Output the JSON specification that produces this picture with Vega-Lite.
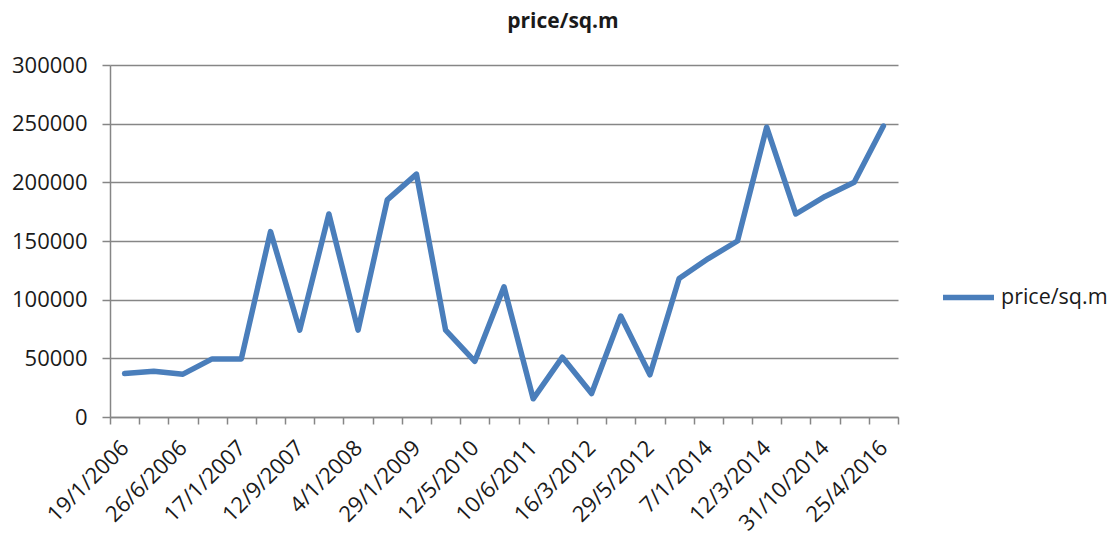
{
  "$schema": "https://vega.github.io/schema/vega-lite/v6.json",
  "autosize": "none",
  "width": 788,
  "height": 352,
  "padding": {"left": 110, "top": 65, "right": 219, "bottom": 121},
  "background": "white",
  "title": {
    "text": "price/sq.m",
    "frame": "group",
    "anchor": "middle",
    "dx": 59,
    "offset": 5,
    "baseline": "alphabetic",
    "font": "Open Sans",
    "fontSize": 21,
    "fontWeight": "bold",
    "color": "#1a1a1a"
  },
  "data": {
    "values": [
      {"date": "19/1/2006", "price": 37000, "series": "price/sq.m"},
      {"date": "3/4/2006", "price": 39000, "series": "price/sq.m"},
      {"date": "26/6/2006", "price": 36500, "series": "price/sq.m"},
      {"date": "10/10/2006", "price": 49500, "series": "price/sq.m"},
      {"date": "17/1/2007", "price": 49500, "series": "price/sq.m"},
      {"date": "15/5/2007", "price": 158000, "series": "price/sq.m"},
      {"date": "12/9/2007", "price": 74000, "series": "price/sq.m"},
      {"date": "5/11/2007", "price": 173000, "series": "price/sq.m"},
      {"date": "4/1/2008", "price": 74000, "series": "price/sq.m"},
      {"date": "20/6/2008", "price": 185000, "series": "price/sq.m"},
      {"date": "29/1/2009", "price": 207000, "series": "price/sq.m"},
      {"date": "15/9/2009", "price": 74000, "series": "price/sq.m"},
      {"date": "12/5/2010", "price": 47500, "series": "price/sq.m"},
      {"date": "20/11/2010", "price": 111000, "series": "price/sq.m"},
      {"date": "10/6/2011", "price": 15500, "series": "price/sq.m"},
      {"date": "8/11/2011", "price": 51000, "series": "price/sq.m"},
      {"date": "16/3/2012", "price": 20000, "series": "price/sq.m"},
      {"date": "20/4/2012", "price": 86000, "series": "price/sq.m"},
      {"date": "29/5/2012", "price": 36000, "series": "price/sq.m"},
      {"date": "15/3/2013", "price": 118000, "series": "price/sq.m"},
      {"date": "7/1/2014", "price": 135000, "series": "price/sq.m"},
      {"date": "5/2/2014", "price": 150000, "series": "price/sq.m"},
      {"date": "12/3/2014", "price": 247000, "series": "price/sq.m"},
      {"date": "20/6/2014", "price": 173000, "series": "price/sq.m"},
      {"date": "31/10/2014", "price": 188000, "series": "price/sq.m"},
      {"date": "15/6/2015", "price": 200000, "series": "price/sq.m"},
      {"date": "25/4/2016", "price": 248000, "series": "price/sq.m"}
    ]
  },
  "mark": {"type": "line", "strokeWidth": 5.5, "strokeJoin": "round", "strokeCap": "round"},
  "encoding": {
    "x": {
      "field": "date",
      "type": "nominal",
      "sort": null,
      "scale": {"paddingInner": 0, "paddingOuter": 0},
      "axis": {
        "title": null,
        "tickBand": "extent",
        "labelAngle": -45,
        "labelAlign": "right",
        "labelBaseline": "middle",
        "labelPadding": 20,
        "labelFont": "Open Sans",
        "labelFontSize": 22,
        "labelColor": "#1a1a1a",
        "labelOverlap": false,
        "labelExpr": "indexof(['19/1/2006','26/6/2006','17/1/2007','12/9/2007','4/1/2008','29/1/2009','12/5/2010','10/6/2011','16/3/2012','29/5/2012','7/1/2014','12/3/2014','31/10/2014','25/4/2016'], datum.value) >= 0 ? datum.label : ''",
        "tickSize": 7,
        "tickColor": "#868686",
        "tickWidth": 1.5,
        "domainColor": "#868686",
        "domainWidth": 1.5,
        "grid": false
      }
    },
    "y": {
      "field": "price",
      "type": "quantitative",
      "scale": {"domain": [0, 300000], "nice": false, "zero": true},
      "axis": {
        "title": null,
        "values": [0, 50000, 100000, 150000, 200000, 250000, 300000],
        "format": "d",
        "labelFont": "Open Sans",
        "labelFontSize": 22,
        "labelColor": "#1a1a1a",
        "labelPadding": 15,
        "tickSize": 8,
        "tickColor": "#868686",
        "tickWidth": 1.5,
        "domainColor": "#868686",
        "domainWidth": 1.5,
        "grid": true,
        "gridColor": "#868686",
        "gridWidth": 1.5
      }
    },
    "color": {
      "field": "series",
      "type": "nominal",
      "scale": {"range": ["#4A7EBB"]},
      "legend": {
        "title": null,
        "orient": "none",
        "legendX": 830,
        "legendY": 204,
        "symbolType": "stroke",
        "symbolSize": 2600,
        "symbolStrokeWidth": 5.5,
        "labelFont": "Open Sans",
        "labelFontSize": 21.5,
        "labelColor": "#1a1a1a",
        "labelOffset": 4
      }
    }
  },
  "config": {"view": {"stroke": null}}
}
